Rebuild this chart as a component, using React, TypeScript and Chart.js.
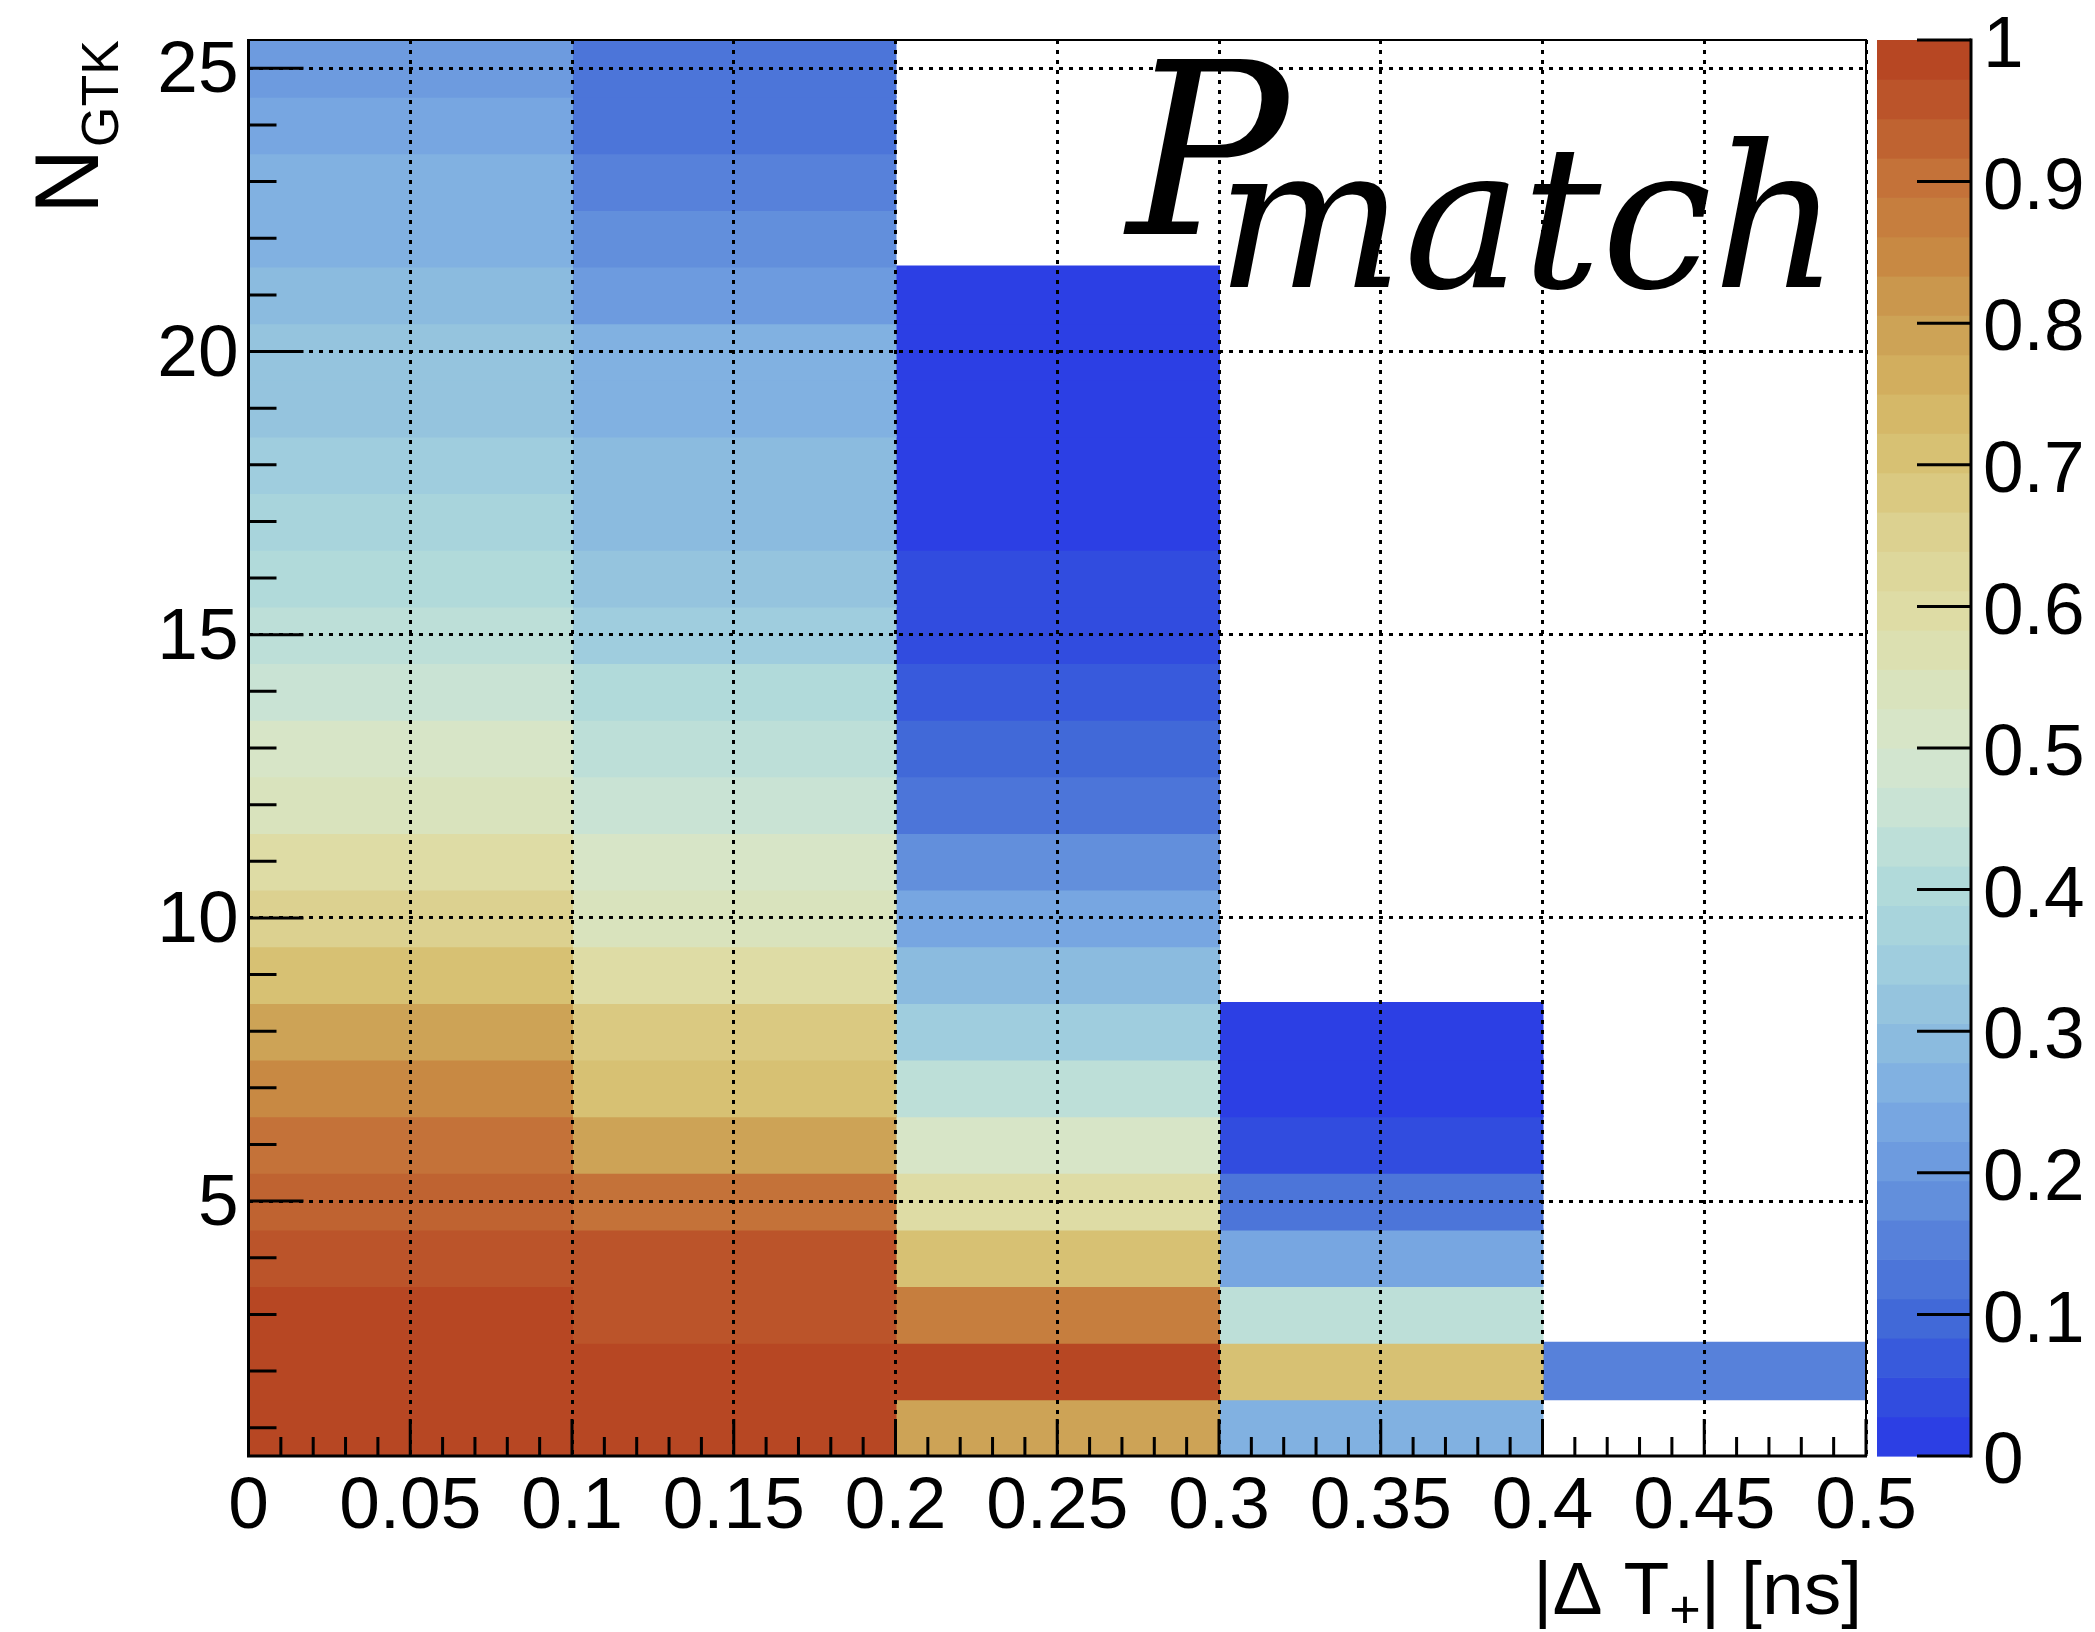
import React, { useEffect, useRef } from 'react';
import { Chart, registerables } from 'chart.js';

Chart.register(...registerables);

// ---------------- data ----------------
const columnBins = ['0.0-0.1', '0.1-0.2', '0.2-0.3', '0.3-0.4', '0.4-0.5'];
const nGtkBins = [1, 2, 3, 4, 5, 6, 7, 8, 9, 10, 11, 12, 13, 14, 15, 16, 17, 18, 19, 20, 21, 22, 23, 24, 25];

// P_match per N_GTK bin (N = 1 .. 25), null = empty bin
const pCol0 = [0.99, 0.99, 0.98, 0.96, 0.94, 0.905, 0.84, 0.79, 0.70, 0.645, 0.595, 0.545, 0.51, 0.455, 0.43, 0.405, 0.375, 0.35, 0.315, 0.315, 0.295, 0.265, 0.265, 0.245, 0.21];
const pCol1 = [0.99, 0.99, 0.96, 0.96, 0.89, 0.80, 0.72, 0.67, 0.60, 0.55, 0.51, 0.47, 0.44, 0.41, 0.35, 0.315, 0.295, 0.295, 0.27, 0.25, 0.22, 0.19, 0.16, 0.13, 0.13];
const pCol2 = [0.79, 0.99, 0.87, 0.72, 0.60, 0.51, 0.43, 0.35, 0.28, 0.23, 0.18, 0.13, 0.10, 0.07, 0.04, 0.04, 0.01, 0.01, 0.01, 0.01, 0.01, null, null, null, null];
const pCol3 = [0.27, 0.71, 0.43, 0.245, 0.13, 0.04, 0.01, 0.01, null, null, null, null, null, null, null, null, null, null, null, null, null, null, null, null, null];
const pCol4 = [null, 0.15, null, null, null, null, null, null, null, null, null, null, null, null, null, null, null, null, null, null, null, null, null, null, null];
const columnValues = [pCol0, pCol1, pCol2, pCol3, pCol4];

const xTickValues = [0, 0.05, 0.1, 0.15, 0.2, 0.25, 0.3, 0.35, 0.4, 0.45, 0.5];
const xTickLabels = ['0', '0.05', '0.1', '0.15', '0.2', '0.25', '0.3', '0.35', '0.4', '0.45', '0.5'];
const yTickValues = [5, 10, 15, 20, 25];
const yTickLabels = ['5', '10', '15', '20', '25'];
const zTickValues = [0, 0.1, 0.2, 0.3, 0.4, 0.5, 0.6, 0.7, 0.8, 0.9, 1];
const zTickLabels = ['0', '0.1', '0.2', '0.3', '0.4', '0.5', '0.6', '0.7', '0.8', '0.9', '1'];

// colour palette (value -> rgb), discretised into contour levels
const N_LEVELS = 36;
const paletteStops = [0, 0.05, 0.1, 0.15, 0.2, 0.25, 0.3, 0.35, 0.4, 0.45, 0.5, 0.55, 0.6, 0.65, 0.7, 0.75, 0.8, 0.85, 0.9, 0.95, 1];
const paletteRGB = [
  [42, 56, 230], [50, 80, 222], [66, 106, 216], [86, 128, 218], [106, 152, 222],
  [124, 172, 226], [142, 190, 222], [160, 206, 222], [176, 218, 218], [198, 226, 214],
  [214, 230, 204], [218, 226, 186], [222, 220, 164], [220, 210, 146], [216, 196, 118],
  [212, 180, 98], [204, 160, 84], [200, 136, 66], [196, 116, 58], [188, 88, 44], [181, 64, 32],
];

const SANS = "'Liberation Sans', Arial, Helvetica, sans-serif";
const SERIF = "'DejaVu Serif', 'Liberation Serif', serif";

function paletteAt(t: number): string {
  let i = 0;
  while (i < paletteStops.length - 2 && t > paletteStops[i + 1]) i++;
  const f = (t - paletteStops[i]) / (paletteStops[i + 1] - paletteStops[i]);
  const a = paletteRGB[i];
  const b = paletteRGB[i + 1];
  const c = a.map((v, k) => Math.round(v + (b[k] - v) * f));
  return `rgb(${c[0]},${c[1]},${c[2]})`;
}
function levelColor(k: number): string {
  return paletteAt((k + 0.5) / N_LEVELS);
}
function cellColor(v: number | null | undefined): string {
  if (v == null) return 'rgba(0,0,0,0)';
  const k = Math.max(0, Math.min(N_LEVELS - 1, Math.floor(v * N_LEVELS)));
  return levelColor(k);
}

function minorBetween(majors: number[], div: number, lo: number, hi: number): number[] {
  const step = majors[1] - majors[0];
  const out: number[] = [];
  for (let m = majors[0] - step; m <= majors[majors.length - 1] + 1e-9; m += step) {
    for (let j = 1; j < div; j++) {
      const v = m + (step * j) / div;
      if (v > lo + 1e-9 && v < hi - 1e-9) out.push(v);
    }
  }
  return out;
}

const decorPlugin = {
  id: 'rootDecor',
  afterDraw(chart: any) {
    const { ctx, chartArea: a, scales } = chart;
    const xs = scales.x;
    const ys = scales.y;
    const zs = scales.z;
    ctx.save();

    // ----- colour bar -----
    const cbL = a.right + 11;
    const cbR = a.right + 105;
    for (let k = 0; k < N_LEVELS; k++) {
      const y0 = zs.getPixelForValue(k / N_LEVELS);
      const y1 = zs.getPixelForValue((k + 1) / N_LEVELS);
      ctx.fillStyle = levelColor(k);
      ctx.fillRect(cbL, y1, cbR - cbL, y0 - y1 + 0.6);
    }
    ctx.strokeStyle = '#000';
    ctx.lineWidth = 3;
    ctx.beginPath();
    ctx.moveTo(cbR, zs.getPixelForValue(0) + 1.5);
    ctx.lineTo(cbR, zs.getPixelForValue(1) - 1.5);
    ctx.stroke();
    ctx.fillStyle = '#000';
    ctx.font = `73px ${SANS}`;
    ctx.textAlign = 'left';
    ctx.textBaseline = 'middle';
    zTickValues.forEach((v, i) => {
      const py = zs.getPixelForValue(v);
      ctx.beginPath();
      ctx.moveTo(cbR - 54, py);
      ctx.lineTo(cbR, py);
      ctx.stroke();
      ctx.fillText(zTickLabels[i], cbR + 12, py + 7);
    });

    // ----- frame -----
    ctx.lineWidth = 2;
    ctx.beginPath();
    ctx.moveTo(a.left, a.top);
    ctx.lineTo(a.right, a.top);
    ctx.lineTo(a.right, a.bottom);
    ctx.stroke();
    ctx.lineWidth = 3;
    ctx.beginPath();
    ctx.moveTo(a.left, a.top - 1);
    ctx.lineTo(a.left, a.bottom);
    ctx.lineTo(a.right + 1, a.bottom);
    ctx.stroke();

    // ----- inward ticks -----
    ctx.lineWidth = 3;
    ctx.beginPath();
    xTickValues.forEach((v) => {
      const px = xs.getPixelForValue(v);
      ctx.moveTo(px, a.bottom);
      ctx.lineTo(px, a.bottom - 37);
    });
    minorBetween(xTickValues, 5, xs.min, xs.max).forEach((v) => {
      const px = xs.getPixelForValue(v);
      ctx.moveTo(px, a.bottom);
      ctx.lineTo(px, a.bottom - 19);
    });
    yTickValues.forEach((v) => {
      const py = ys.getPixelForValue(v);
      ctx.moveTo(a.left, py);
      ctx.lineTo(a.left + 55, py);
    });
    minorBetween(yTickValues, 5, ys.min, ys.max).forEach((v) => {
      const py = ys.getPixelForValue(v);
      ctx.moveTo(a.left, py);
      ctx.lineTo(a.left + 28, py);
    });
    ctx.stroke();

    // ----- x title: |Δ T+| [ns] -----
    ctx.textAlign = 'left';
    ctx.textBaseline = 'alphabetic';
    const parts = [
      { t: '|\u0394 T', s: 75, dy: 0 },
      { t: '+', s: 54, dy: 14 },
      { t: '| [ns]', s: 75, dy: 0 },
    ];
    let total = 0;
    parts.forEach((p) => {
      ctx.font = `${p.s}px ${SANS}`;
      total += ctx.measureText(p.t).width;
    });
    let cx = a.right - 4 - total;
    const xb = 1614;
    parts.forEach((p) => {
      ctx.font = `${p.s}px ${SANS}`;
      ctx.fillText(p.t, cx, xb + p.dy);
      cx += ctx.measureText(p.t).width;
    });

    // ----- y title: N_GTK (rotated) -----
    ctx.save();
    ctx.translate(98, 214);
    ctx.rotate(-Math.PI / 2);
    ctx.font = `90px ${SANS}`;
    ctx.fillText('N', 0, 0);
    const wN = ctx.measureText('N').width;
    ctx.font = `52px ${SANS}`;
    ctx.fillText('GTK', wN + 2, 20);
    ctx.restore();

    // ----- label P_match -----
    ctx.font = `italic 240px ${SERIF}`;
    ctx.fillText('P', 1127, 234);
    ctx.font = `italic 198px ${SERIF}`;
    ctx.fillText('match', 1216, 287);

    ctx.restore();
  },
};

export default function App() {
  const ref = useRef<HTMLCanvasElement | null>(null);

  useEffect(() => {
    if (!ref.current) return;
    const datasets = columnBins.map((col, ci) => ({
      label: col,
      xAxisID: 'xc',
      yAxisID: 'y',
      data: nGtkBins
        .map((n, i) => ({ x: col, y: [n - 0.5, n + 0.5], v: columnValues[ci][i] }))
        .filter((d) => d.v != null),
      backgroundColor: (c: any) => cellColor(c.raw ? c.raw.v : null),
      borderWidth: 0,
      inflateAmount: 1,
      grouped: false,
      barPercentage: 1,
      categoryPercentage: 1,
    }));

    const gridDash = { display: false, dash: [4, 6] };

    const chart = new Chart(ref.current, {
      type: 'bar',
      data: { labels: columnBins, datasets: datasets as any },
      plugins: [decorPlugin],
      options: {
        responsive: false,
        maintainAspectRatio: false,
        devicePixelRatio: 1,
        animation: false,
        layout: { padding: { top: 40, right: 229, left: 0, bottom: 0 } },
        plugins: { legend: { display: false }, tooltip: { enabled: false } },
        scales: {
          xc: {
            type: 'category',
            labels: columnBins,
            display: false,
            offset: true,
          },
          x: {
            type: 'linear',
            position: 'bottom',
            min: 0,
            max: 0.5,
            offset: false,
            z: 1,
            afterBuildTicks: (s: any) => {
              s.ticks = xTickValues.map((value) => ({ value }));
            },
            afterFit: (s: any) => {
              s.height = 176;
              s.paddingLeft = 0;
              s.paddingRight = 0;
            },
            ticks: {
              autoSkip: false,
              maxRotation: 0,
              minRotation: 0,
              padding: 8,
              color: '#000',
              font: { family: SANS, size: 73 },
              callback: (_v: any, i: number) => xTickLabels[i],
            },
            grid: { color: '#000', lineWidth: 3, drawTicks: false, offset: false, z: 1 },
            border: gridDash,
          },
          y: {
            type: 'linear',
            min: 0.5,
            max: 25.5,
            z: 1,
            afterBuildTicks: (s: any) => {
              s.ticks = yTickValues.map((value) => ({ value }));
            },
            afterFit: (s: any) => {
              s.width = 248.5;
              s.paddingTop = 0;
              s.paddingBottom = 0;
            },
            ticks: {
              autoSkip: false,
              padding: 10,
              labelOffset: 4,
              color: '#000',
              font: { family: SANS, size: 73 },
              callback: (_v: any, i: number) => yTickLabels[i],
            },
            grid: { color: '#000', lineWidth: 3, drawTicks: false, z: 1 },
            border: gridDash,
          },
          z: {
            type: 'linear',
            position: 'right',
            min: 0,
            max: 1,
            display: false,
          },
        },
      } as any,
    });
    return () => chart.destroy();
  }, []);

  return (
    <div style={{ position: 'fixed', left: 0, top: 0, width: 2095, height: 1632, background: '#fff' }}>
      <canvas ref={ref} width={2095} height={1632} style={{ display: 'block', width: 2095, height: 1632 }} />
    </div>
  );
}
